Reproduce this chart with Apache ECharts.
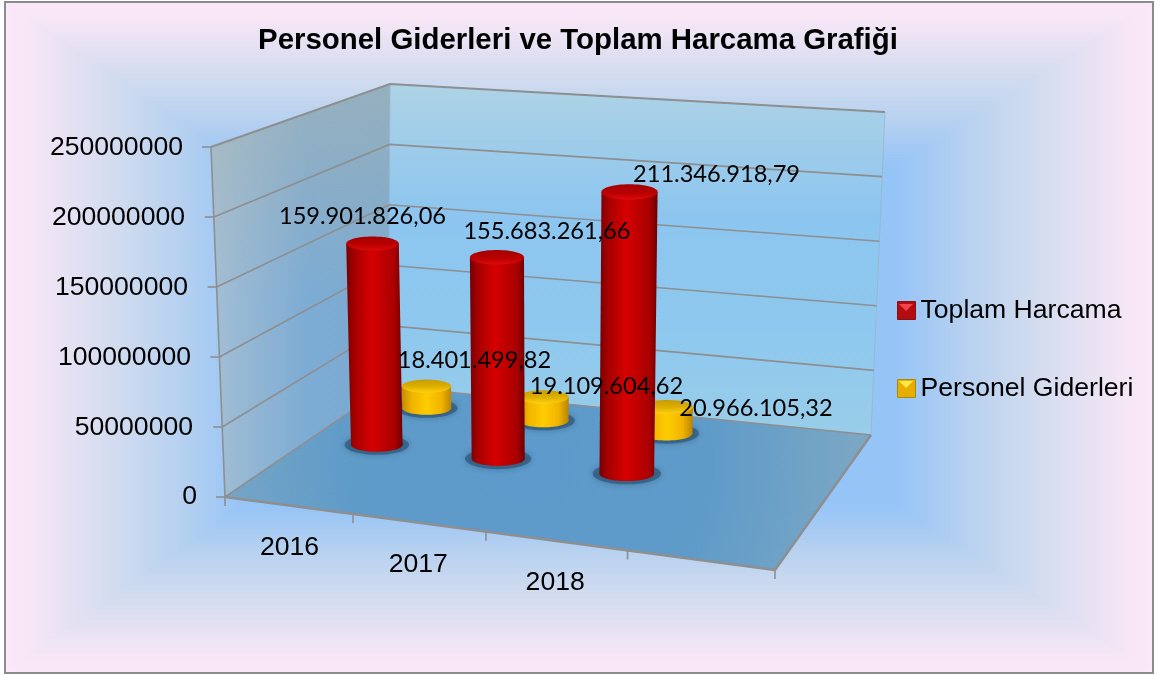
<!DOCTYPE html>
<html>
<head>
<meta charset="utf-8">
<title>Personel Giderleri ve Toplam Harcama Grafiği</title>
<script src="https://cdn.jsdelivr.net/npm/echarts@6/dist/echarts.min.js"></script>
<style>
  html, body { margin: 0; padding: 0; background: #fff; }
  #chart { width: 1155px; height: 675px; }
</style>
</head>
<body>
<div id="chart"></div>
<script>
const categories = ['2016', '2017', '2018', '']
const toplamHarcama = [159901826.06, 155683261.66, 211346918.79]
const personelGiderleri = [18401499.82, 19109604.62, 20966105.32]
const yTicks = [0, 50000000, 100000000, 150000000, 200000000, 250000000]

// label position relative to the top of each cylinder
const toplamLabelShift = [[-10, -27], [50, -26], [87, -18]]
const personelLabelShift = [[48, -26], [63, -11], [89, 1]]

// corners of the 3d box on screen
const FL = [225, 497], FR = [775, 570], BR = [871, 435], BL = [388, 386]
const FLT = [211, 147], BLT = [390, 84], BRT = [885, 112]
const Y_MAX = yTicks[yTicks.length - 1]

const AXIS_SIZE = 26.6
const FONT_AXIS = AXIS_SIZE + 'px "Liberation Sans"'
const FONT_LABEL = '23.6px Lato'
const GRID_COLOR = '#8d8f91'

// floor homography, unit square to floor quad
const sx = FL[0] - FR[0] + BR[0] - BL[0]
const sy = FL[1] - FR[1] + BR[1] - BL[1]
const dx1 = FR[0] - BR[0], dx2 = BL[0] - BR[0]
const dy1 = FR[1] - BR[1], dy2 = BL[1] - BR[1]
const den = dx1 * dy2 - dx2 * dy1
const hg = (sx * dy2 - dx2 * sy) / den
const hh = (dx1 * sy - sx * dy1) / den

const depth = (u, v) => 1 + hg * u + hh * v
const project = (u, v) => {
  const w = depth(u, v)
  return [
    (FL[0] + (FR[0] - FL[0] + hg * FR[0]) * u + (BL[0] - FL[0] + hh * BL[0]) * v) / w,
    (FL[1] + (FR[1] - FL[1] + hg * FR[1]) * u + (BL[1] - FL[1] + hh * BL[1]) * v) / w
  ]
}
const mix = (a, b, t) => [a[0] + (b[0] - a[0]) * t, a[1] + (b[1] - a[1]) * t]

const LG = echarts.graphic.LinearGradient
const RG = echarts.graphic.RadialGradient

const palettes = {
  red: {
    body: [[0, '#750000'], [0.14, '#a40000'], [0.45, '#d60000'], [0.86, '#a80000'], [1, '#6e0000']],
    cap: [[0, '#a30000'], [0.55, '#b80000'], [1, '#dc0a0a']]
  },
  yellow: {
    body: [[0, '#c48c00'], [0.2, '#f0b400'], [0.5, '#ffcc00'], [0.8, '#f0b400'], [1, '#b98400']],
    cap: [[0, '#c89c00'], [0.5, '#dcae00'], [1, '#ffd010']]
  }
}
const stops = arr => arr.map(s => ({ offset: s[0], color: s[1] }))

// where a bar of this series stands and how tall it looks
const placeBar = (params, api, v) => {
  const c = params.coordSys
  const x = api.coord([api.value(0), 0])[0]
  const u = (x - c.x) / c.width + 0.013
  const base = project(u, v)
  const w = depth(u, v)
  const h = api.size([0, api.value(1)])[1] * 0.96 / w
  const lean = (base[0] - 548) * 0.000124 * h
  const r = api.size([1, 0])[0] * 0.183 / w
  return { base, top: [base[0] + lean, base[1] - h], r, rTop: r * (1 + h * 0.0001) }
}

const cylinder = (palette, v) => (params, api) => {
  const b = placeBar(params, api, v)
  const ry = b.r * 0.27
  const ryTop = b.rTop * 0.27
  const p = palettes[palette]
  const left = Math.min(b.base[0] - b.r, b.top[0] - b.rTop)
  const right = Math.max(b.base[0] + b.r, b.top[0] + b.rTop)
  const bodyFill = new LG(left, 0, right, 0, stops(p.body), true)
  return {
    type: 'group',
    children: [
      {
        type: 'ellipse',
        shape: { cx: b.base[0], cy: b.base[1], rx: b.r * 1.25, ry: ry * 1.45 },
        style: { fill: 'rgba(40,78,112,0.6)', shadowBlur: 7, shadowColor: 'rgba(40,78,112,0.75)' }
      },
      { type: 'ellipse', shape: { cx: b.base[0], cy: b.base[1], rx: b.r, ry: ry }, style: { fill: bodyFill } },
      {
        type: 'polygon',
        shape: { points: [
          [b.top[0] - b.rTop, b.top[1]], [b.top[0] + b.rTop, b.top[1]],
          [b.base[0] + b.r, b.base[1]], [b.base[0] - b.r, b.base[1]]
        ] },
        style: { fill: bodyFill }
      },
      {
        type: 'ellipse',
        shape: { cx: b.top[0], cy: b.top[1], rx: b.rTop, ry: ryTop },
        style: { fill: new LG(0, 0, 0, 1, stops(p.cap)) }
      }
    ]
  }
}

// numbers are written the Turkish way, 159.901.826,06
const formatTr = n => {
  const parts = n.toFixed(2).split('.')
  return parts[0].replace(/\B(?=(\d{3})+$)/g, '.') + ',' + parts[1]
}

const valueLabels = (v, shifts) => (params, api) => {
  const b = placeBar(params, api, v)
  const s = shifts[api.value(0)]
  return {
    type: 'text',
    style: {
      x: b.top[0] + s[0], y: b.top[1] + s[1],
      text: formatTr(api.value(1)),
      font: FONT_LABEL, fill: '#000', align: 'center', verticalAlign: 'middle'
    }
  }
}

// walls, floor, and the tick lines of the value axis, one data item per tick
const renderWalls = (params, api) => {
  const tick = api.value(0)
  const t = tick / Y_MAX
  const a = mix(FL, FLT, t)
  const b = mix(BL, BLT, t)
  const c = mix(BR, BRT, t)
  const lineStyle = { stroke: GRID_COLOR, lineWidth: t === 1 ? 2 : 1.6, fill: 'none' }
  const children = []
  if (tick === 0) {
    children.push(
      {
        type: 'polygon',
        shape: { points: [FL, BL, BLT, FLT] },
        style: { fill: new LG(FLT[0], 0, BL[0], 0, [
          { offset: 0, color: 'rgba(164,190,210,0.95)' },
          { offset: 0.55, color: 'rgba(123,170,210,0.95)' },
          { offset: 1, color: 'rgba(122,168,205,0.95)' }
        ], true) }
      },
      {
        type: 'polygon',
        shape: { points: [FL, BL, BLT, FLT] },
        style: { fill: new LG(0, BLT[1], 0, 300, [
          { offset: 0, color: 'rgba(170,180,175,0.55)' },
          { offset: 1, color: 'rgba(170,180,175,0)' }
        ], true) }
      },
      {
        type: 'polygon',
        shape: { points: [BL, BR, BRT, BLT] },
        style: { fill: new LG(0, BLT[1], 0, BR[1], [
          { offset: 0, color: '#aed3e5' },
          { offset: 0.38, color: '#8cc5ef' },
          { offset: 0.75, color: '#90c9ee' },
          { offset: 1, color: '#99cde8' }
        ], true), stroke: 'rgba(150,180,200,0.7)', lineWidth: 1 }
      },
      {
        type: 'polygon',
        shape: { points: [FL, FR, BR, BL] },
        style: { fill: new RG(530, 465, 330, [
          { offset: 0, color: '#5d9acb' },
          { offset: 0.55, color: '#5f9bc9' },
          { offset: 1, color: '#7ba7c4' }
        ], true) }
      },
      { type: 'line', shape: { x1: FL[0], y1: FL[1], x2: FR[0], y2: FR[1] }, style: { stroke: GRID_COLOR, lineWidth: 2.5 } },
      { type: 'line', shape: { x1: FR[0], y1: FR[1], x2: BR[0], y2: BR[1] }, style: { stroke: GRID_COLOR, lineWidth: 2.5 } },
      { type: 'line', shape: { x1: FL[0], y1: FL[1], x2: FLT[0], y2: FLT[1] }, style: { stroke: GRID_COLOR, lineWidth: 1.6 } }
    )
  }
  children.push(
    { type: 'polyline', shape: { points: [a, b, c] }, style: lineStyle },
    { type: 'line', shape: { x1: a[0] - 9, y1: a[1], x2: a[0], y2: a[1] }, style: { stroke: GRID_COLOR, lineWidth: 1.6 } }
  )
  return { type: 'group', children }
}

// category ticks on the front edge of the floor and the year labels below it
const renderCategories = (params, api) => {
  const c = params.coordSys
  const i = api.value(0)
  const band = c.width / categories.length
  const x = api.coord([i, 0])[0]
  const start = project((x - band / 2 - c.x) / c.width + (i > 0 ? 0.006 : 0), 0)
  const mid = project((x - c.x) / c.width, 0)
  const tick = (p) => ({ type: 'line', shape: { x1: p[0], y1: p[1], x2: p[0], y2: p[1] + 9 }, style: { stroke: GRID_COLOR, lineWidth: 1.6 } })
  const children = [tick(start)]
  if (i === categories.length - 1) children.push(tick(FR))
  children.push({
    type: 'text',
    style: {
      x: mid[0] + 3, y: mid[1] + 42, text: categories[i],
      font: FONT_AXIS, fill: '#000', align: 'center', verticalAlign: 'middle'
    }
  })
  return { type: 'group', children }
}

// the plot background: four mitred gradients, pink at the frame, blue inside
const OUT = { l: 6, t: 3, r: 1153, b: 672 }
const IN = { l: 245, t: 165, r: 895, b: 505 }
const bgStops = [
  { offset: 0, color: '#fbe8f8' },
  { offset: 0.1, color: '#f6e6f6' },
  { offset: 0.45, color: '#d3dcef' },
  { offset: 0.75, color: '#b4d0f0' },
  { offset: 1, color: '#95c4f7' }
]
const bgPart = (points, x0, y0, x1, y1) => {
  const fill = new LG(x0, y0, x1, y1, bgStops, true)
  return { type: 'polygon', z: -10, silent: true, shape: { points }, style: { fill, stroke: fill, lineWidth: 1.5 } }
}
const background = [
  { type: 'rect', z: -11, silent: true, shape: { x: IN.l, y: IN.t, width: IN.r - IN.l, height: IN.b - IN.t }, style: { fill: '#95c4f7' } },
  bgPart([[OUT.l, OUT.t], [OUT.r, OUT.t], [IN.r, IN.t], [IN.l, IN.t]], 0, OUT.t, 0, IN.t),
  bgPart([[OUT.l, OUT.b], [OUT.r, OUT.b], [IN.r, IN.b], [IN.l, IN.b]], 0, OUT.b, 0, IN.b),
  bgPart([[OUT.l, OUT.t], [IN.l, IN.t], [IN.l, IN.b], [OUT.l, OUT.b]], OUT.l, 0, IN.l, 0),
  bgPart([[OUT.r, OUT.t], [IN.r, IN.t], [IN.r, IN.b], [OUT.r, OUT.b]], OUT.r, 0, IN.r, 0),
  {
    type: 'rect', z: -9, silent: true,
    shape: { x: 5, y: 2, width: 1148, height: 671 },
    style: { fill: 'none', stroke: '#8c8c8c', lineWidth: 2 }
  },
  // bevel on the legend squares
  { type: 'polygon', z: 20, silent: true, shape: { points: [[899, 304], [913, 304], [906, 311]] }, style: { fill: '#f0444c' } },
  { type: 'polygon', z: 20, silent: true, shape: { points: [[899, 381], [913, 381], [906, 388]] }, style: { fill: '#ffe84a' } }
]

const yLabelPad = { 0: 0, 50000000: 4, 100000000: 6, 150000000: 9, 200000000: 12, 250000000: 14 }
const yRich = {}
yTicks.forEach((t, i) => {
  yRich['t' + i] = { fontFamily: 'Liberation Sans', fontSize: AXIS_SIZE, color: '#000', padding: [0, yLabelPad[t], 0, 0] }
})

const chart = echarts.init(document.getElementById('chart'), null, { renderer: 'canvas' })
chart.setOption({
  animation: false,
  backgroundColor: '#fff',
  graphic: { elements: background },
  title: {
    text: 'Personel Giderleri ve Toplam Harcama Grafiği',
    left: 573, top: 21, textAlign: 'center',
    textStyle: { fontFamily: 'Liberation Sans', fontWeight: 'bold', fontSize: 29.4, color: '#000' }
  },
  legend: {
    orient: 'vertical', left: 897, top: 297, padding: 0,
    itemWidth: 18, itemHeight: 18, itemGap: 51,
    selectedMode: false,
    textStyle: { fontFamily: 'Liberation Sans', fontSize: AXIS_SIZE, color: '#000' },
    data: [
      { name: 'Toplam Harcama', icon: 'rect', itemStyle: { color: '#b30d12', borderColor: '#8a1015', borderWidth: 1 } },
      { name: 'Personel Giderleri', icon: 'rect', itemStyle: { color: '#e6ae00', borderColor: '#a88a10', borderWidth: 1 } }
    ]
  },
  grid: { left: 200, top: 148, width: 600, height: 349 },
  xAxis: { type: 'category', data: categories, show: false },
  yAxis: {
    type: 'value', min: 0, max: Y_MAX, interval: 50000000,
    axisLine: { show: false }, axisTick: { show: false }, splitLine: { show: false },
    axisLabel: {
      margin: 3,
      formatter: v => '{t' + yTicks.indexOf(v) + '|' + v + '}',
      rich: yRich
    }
  },
  series: [
    {
      type: 'custom', name: 'walls', silent: true, z: 1,
      renderItem: renderWalls, encode: { x: -1, y: 0 },
      data: yTicks.map(t => [t])
    },
    {
      type: 'custom', name: 'categories', silent: true, z: 2,
      renderItem: renderCategories, encode: { x: 0, y: -1 },
      data: categories.map((c, i) => [i])
    },
    {
      type: 'custom', name: 'Personel Giderleri', z: 3,
      itemStyle: { color: '#e6ae00' },
      renderItem: cylinder('yellow', 0.84), encode: { x: 0, y: 1 },
      data: personelGiderleri.map((v, i) => [i, v])
    },
    {
      type: 'custom', name: 'Toplam Harcama', z: 4,
      itemStyle: { color: '#b30d12' },
      renderItem: cylinder('red', 0.5), encode: { x: 0, y: 1 },
      data: toplamHarcama.map((v, i) => [i, v])
    },
    {
      type: 'custom', name: 'personel labels', silent: true, z: 5,
      renderItem: valueLabels(0.84, personelLabelShift), encode: { x: 0, y: 1 },
      data: personelGiderleri.map((v, i) => [i, v])
    },
    {
      type: 'custom', name: 'toplam labels', silent: true, z: 5,
      renderItem: valueLabels(0.5, toplamLabelShift), encode: { x: 0, y: 1 },
      data: toplamHarcama.map((v, i) => [i, v])
    }
  ]
})
</script>
</body>
</html>
